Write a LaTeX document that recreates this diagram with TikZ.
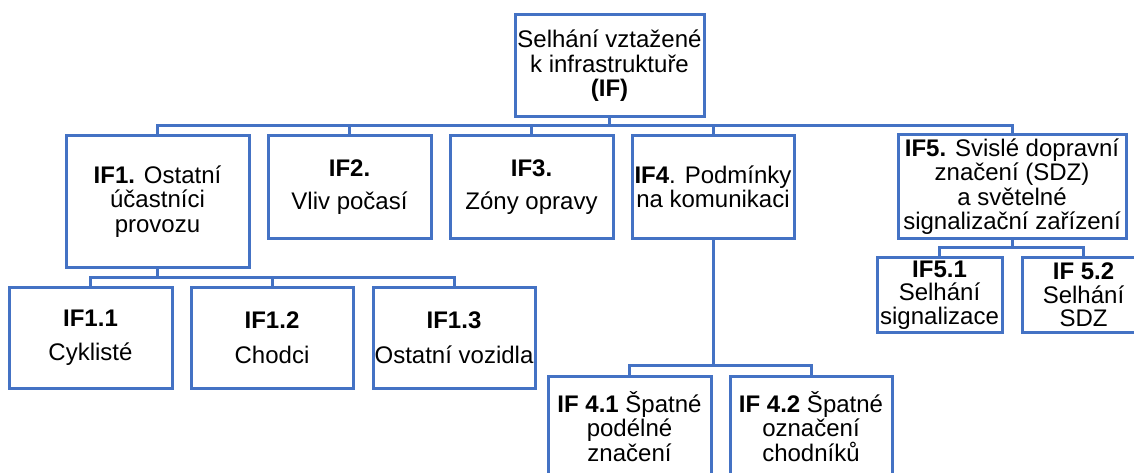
\documentclass[tikz,border=0pt]{standalone}
\usepackage{fontspec}
\setmainfont{Liberation Sans}
\definecolor{ifblue}{HTML}{4472C4}
\tikzset{
    box/.style={draw=ifblue, line width=3pt, fill=white, align=center, inner sep=0pt, minimum height=#1},
    box/.default=102pt,
    conn/.style={draw=ifblue, line width=3pt},
    tight/.style={font=\fontsize{24}{23.5}\selectfont},
}

\begin{document}
\begin{tikzpicture}[x=1pt, y=-1pt, font=\fontsize{24}{24.5}\selectfont]
        \clip (0, 0) rectangle (1134, 473);
        \node[box, minimum width=189pt] (root) at (609.5, 66) {Selhání vztažené\\k infrastruktuře\\\textbf{(IF)}};

        \node[box=131pt, minimum width=183pt] (if1) at (157.5, 201.5) {\textbf{IF1.} Ostatní\\účastníci\\provozu};
        \node[box, minimum width=163pt] (if2) at (349.5, 187) {\textbf{IF2.}\\[9pt]Vliv počasí};
        \node[box, minimum width=163pt] (if3) at (531.5, 187) {\textbf{IF3.}\\[9pt]Zóny opravy};
        \node[box, minimum width=162pt] (if4) at (713, 187) {\textbf{IF4}. Podmínky\\na komunikaci};
        \node[box=103pt, minimum width=228pt] (if5) at (1012, 186.5) {\textbf{IF5.} Svislé dopravní\\značení (SDZ)\\a světelné\\signalizační zařízení};

        \node[box=101pt, minimum width=163pt] (if11) at (90.5, 337.5) {\textbf{IF1.1}\\[10pt]Cyklisté};
        \node[box=101pt, minimum width=162pt] (if12) at (272, 337.5) {\textbf{IF1.2}\\[10pt]Chodci};
        \node[box=101pt, minimum width=162pt] (if13) at (454, 337.5) {\textbf{IF1.3}\\[10pt]Ostatní vozidla};

        \node[box=101pt, minimum width=163pt] (if41) at (629.5, 426.5) {\textbf{IF 4.1} Špatné\\podélné\\značení};
        \node[box=101pt, minimum width=162pt] (if42) at (811, 426.5) {\textbf{IF 4.2} Špatné\\označení\\chodníků};

        \node[box=75pt, minimum width=125pt, tight] (if51) at (939.5, 295) {\textbf{IF5.1}\\Selhání\\signalizace};
        \node[box=75pt, minimum width=123pt, tight] (if52) at (1083.5, 295) {\textbf{IF 5.2}\\Selhání\\SDZ};

        \coordinate (bus0) at (609.5, 126);
        \coordinate (bus1) at (157.5, 277);
        \coordinate (bus4) at (713, 365);
        \coordinate (bus5) at (1012, 247);

        \draw[conn] (root.south) -- (bus0);
        \foreach \n in {if1, if2, if3, if4, if5} {
            \draw[conn] (bus0) -| (\n.north);
        }
        \draw[conn] (if1.south) -- (bus1);
        \foreach \n in {if11, if12, if13} {
            \draw[conn] (bus1) -| (\n.north);
        }
        \draw[conn] (if4.south) -- (bus4);
        \foreach \n in {if41, if42} {
            \draw[conn] (bus4) -| (\n.north);
        }
        \draw[conn] (if5.south) -- (bus5);
        \foreach \n in {if51, if52} {
            \draw[conn] (bus5) -| (\n.north);
        }
    \end{tikzpicture}
\end{document}
